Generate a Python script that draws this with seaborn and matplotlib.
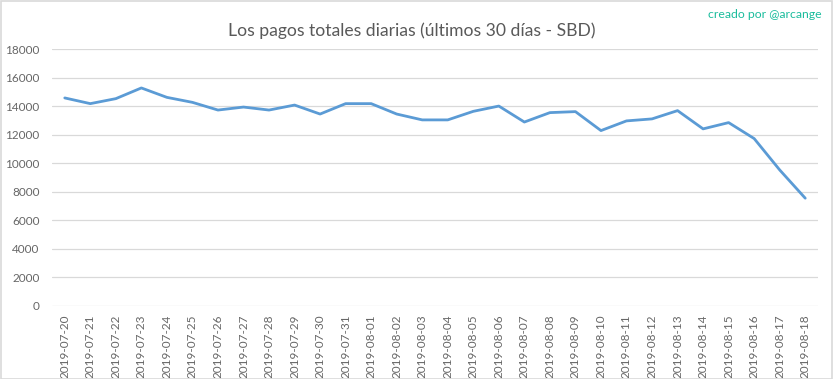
"""
Pagos totales diarias (últimos 30 días - SBD), estilo gráfico de Excel.
"""

import pandas as pd
import matplotlib.pyplot as plt
import seaborn as sns
from matplotlib.patches import Rectangle

# Datos
fechas = [
    "2019-07-20", "2019-07-21", "2019-07-22", "2019-07-23", "2019-07-24",
    "2019-07-25", "2019-07-26", "2019-07-27", "2019-07-28", "2019-07-29",
    "2019-07-30", "2019-07-31", "2019-08-01", "2019-08-02", "2019-08-03",
    "2019-08-04", "2019-08-05", "2019-08-06", "2019-08-07", "2019-08-08",
    "2019-08-09", "2019-08-10", "2019-08-11", "2019-08-12", "2019-08-13",
    "2019-08-14", "2019-08-15", "2019-08-16", "2019-08-17", "2019-08-18",
]
pagos_sbd = [
    14590, 14190, 14540, 15290, 14630,
    14280, 13740, 13950, 13740, 14090,
    13460, 14190, 14190, 13460, 13050,
    13050, 13650, 14020, 12900, 13560,
    13630, 12300, 12980, 13120, 13700,
    12420, 12860, 11740, 9540, 7560,
]
y_ticks = list(range(0, 18001, 2000))

titulo = "Los pagos totales diarias (últimos 30 días - SBD)"
firma = "creado por @arcange"

gris_texto = "#595959"
gris_rejilla = "#d9d9d9"
azul_linea = "#5b9bd5"

df = pd.DataFrame({"fecha": fechas, "pagos": pagos_sbd})

sns.set_theme(style="white")
plt.rcParams["font.family"] = ["Lato", "DejaVu Sans"]

fig = plt.figure(figsize=(8.33, 3.79), dpi=100)
ax = fig.add_axes([52 / 833, 1 - 306 / 379, (818 - 52) / 833, (306 - 49.3) / 379])

sns.lineplot(data=df, x="fecha", y="pagos", ax=ax, color=azul_linea,
             linewidth=2.0, sort=False)

ax.set_xlim(-0.5, len(fechas) - 0.5)
ax.set_ylim(0, 18000)
ax.set_yticks(y_ticks)
ax.set_yticklabels([str(v) for v in y_ticks])
ax.set_xticks(range(len(fechas)))
ax.set_xticklabels(fechas, rotation=90)
ax.set_xlabel("")
ax.set_ylabel("")

ax.grid(axis="y", color=gris_rejilla, linewidth=0.9)
ax.grid(axis="x", visible=False)
ax.set_axisbelow(True)
for lado in ["top", "right", "left", "bottom"]:
    ax.spines[lado].set_visible(False)
ax.tick_params(axis="both", length=0, labelsize=8.5, labelcolor="#666666")
ax.tick_params(axis="y", pad=9)
ax.tick_params(axis="x", pad=6)

fig.text(412 / 833, 1 - 31 / 379, titulo, ha="center", va="center",
         fontsize=12.6, color=gris_texto)
fig.text(1 - 11 / 833, 1 - 15 / 379, firma, ha="right", va="center",
         fontsize=8.8, color="#1abc9c")

# Borde del área del gráfico
fig.patches.append(Rectangle((0.5 / 833, 0.5 / 379), 1 - 1.5 / 833, 1 - 1.5 / 379,
                             transform=fig.transFigure, fill=False,
                             edgecolor=gris_rejilla, linewidth=1.2))

fig.savefig("out.png", dpi=100, facecolor="white")
